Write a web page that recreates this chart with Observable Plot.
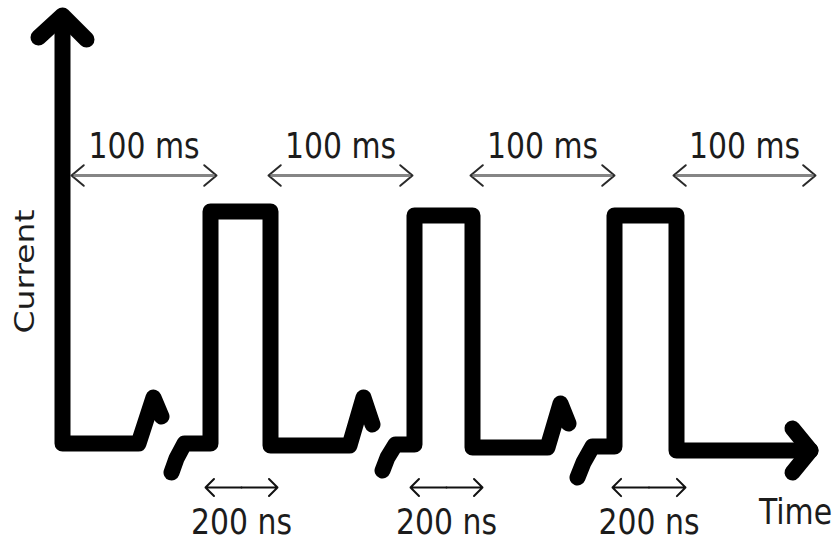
<!DOCTYPE html>
<html>
<head>
<meta charset="utf-8">
<script src="https://cdn.jsdelivr.net/npm/d3@7"></script>
<script src="https://cdn.jsdelivr.net/npm/@observablehq/plot@0.6"></script>
<style>
  html, body { margin: 0; padding: 0; background: #fff; }
  #chart svg { display: block; }
</style>
</head>
<body>
<div id="chart"></div>
<script>
// Schematic units (x: time along the diagram, y: height on the diagram, top = 0)
// Thick waveform traces (axis + pulse train, broken by "//" marks)
const traceNames = ["axis", "pulse1", "pulse2", "pulse3"];
const traceX = [
  [62, 62, 138, 153, 161],
  [171, 176, 184, 210, 210, 270, 270, 349, 363, 372],
  [382, 387, 395, 414, 414, 472, 472, 547, 560, 568],
  [577, 583, 592, 614, 614, 676, 676, 810]
];
const traceY = [
  [16, 443, 443, 397, 416],
  [472, 458, 443, 443, 211, 211, 445, 445, 397, 424],
  [470, 457, 444, 444, 215, 215, 447, 447, 403, 423],
  [477, 462, 446, 446, 215, 215, 450, 450]
];
// Arrow heads of the two axes
const headNames = ["yHead", "xHead"];
const headX = [[38, 62, 86], [792, 810, 792]];
const headY = [[37, 15, 39], [428, 450, 472]];

// "100 ms" period spans
const periodLabels = ["100 ms", "100 ms", "100 ms", "100 ms"];
const periodStart = [71, 268, 470, 673];
const periodEnd = [216, 412, 614, 815];
const periodY = 175;
const periodLabelY = 157;

// "200 ns" pulse-width spans
const widthLabels = ["200 ns", "200 ns", "200 ns"];
const widthStart = [205, 410, 612];
const widthEnd = [277, 482, 685];
const widthY = 487;
const widthLabelY = 533;

// Axis titles
const axisTitles = ["Current", "Time"];
const axisTitleX = [33, 795];
const axisTitleY = [271, 523];
const axisTitleRotate = [-90, 0];

// ---- build tables ----
const traceRows = traceNames.flatMap((name, i) =>
  traceX[i].map((x, j) => ({trace: name, x, y: traceY[i][j]})));
const headRows = headNames.flatMap((name, i) =>
  headX[i].map((x, j) => ({trace: name, x, y: headY[i][j]})));
const periods = periodLabels.map((label, i) => ({
  label, a: periodStart[i], b: periodEnd[i], y: periodY,
  mid: (periodStart[i] + periodEnd[i]) / 2, ly: periodLabelY
}));
const widths = widthLabels.map((label, i) => ({
  label, a: widthStart[i], b: widthEnd[i], y: widthY,
  mid: (widthStart[i] + widthEnd[i]) / 2, ly: widthLabelY
}));
const titles = axisTitles.map((t, i) => ({
  t, x: axisTitleX[i], y: axisTitleY[i], r: axisTitleRotate[i]
}));

const font = "'DejaVu Sans', Verdana, sans-serif";
const textColor = "#1c1c1c";

const chart = Plot.plot({
  width: 838,
  height: 541,
  margin: 0,
  x: {type: "linear", domain: [0, 838], range: [0, 838], axis: null},
  y: {type: "linear", domain: [0, 541], range: [0, 541], axis: null},
  style: {background: "#fff", fontFamily: font},
  marks: [
    // period spans: dark open heads, gray shaft on top
    Plot.arrow(periods, {x1: "mid", x2: "a", y1: "y", y2: "y", stroke: "#2a2a2a", strokeWidth: 2, headLength: 12, headAngle: 80}),
    Plot.arrow(periods, {x1: "mid", x2: "b", y1: "y", y2: "y", stroke: "#2a2a2a", strokeWidth: 2, headLength: 12, headAngle: 80}),
    Plot.link(periods, {x1: d => d.a + 2, x2: d => d.b - 2, y1: "y", y2: "y", stroke: "#858585", strokeWidth: 3}),
    Plot.text(periods, {x: "mid", y: "ly", text: "label", fontSize: 36, fontFamily: font, fill: textColor, textAnchor: "middle", lineAnchor: "bottom"}),

    // pulse-width spans
    Plot.arrow(widths, {x1: "mid", x2: "a", y1: "y", y2: "y", stroke: "#111", strokeWidth: 2, headLength: 10, headAngle: 90}),
    Plot.arrow(widths, {x1: "mid", x2: "b", y1: "y", y2: "y", stroke: "#111", strokeWidth: 2, headLength: 10, headAngle: 90}),
    Plot.text(widths, {x: "mid", y: "ly", text: "label", fontSize: 36, fontFamily: font, fill: textColor, textAnchor: "middle", lineAnchor: "bottom"}),

    // thick waveform and axes
    Plot.line(traceRows, {x: "x", y: "y", z: "trace", stroke: "#000", strokeWidth: 16, strokeLinejoin: "round", strokeLinecap: "round", curve: "linear"}),
    Plot.line(headRows, {x: "x", y: "y", z: "trace", stroke: "#000", strokeWidth: 16, strokeLinejoin: "round", strokeLinecap: "round", curve: "linear"}),

    // axis titles
    Plot.text(titles.filter(d => d.r !== 0), {x: "x", y: "y", text: "t", rotate: -90, fontSize: 33, fontFamily: font, fill: textColor, textAnchor: "middle", lineAnchor: "bottom"}),
    Plot.text(titles.filter(d => d.r === 0), {x: "x", y: "y", text: "t", fontSize: 36, fontFamily: font, fill: textColor, textAnchor: "middle", lineAnchor: "bottom"})
  ]
});

// The reference lettering is horizontally compressed; squeeze text along the screen x-direction.
const squeeze = 0.83;
d3.select(chart).selectAll("text").each(function() {
  const t = d3.select(this);
  let tr = t.attr("transform") || "";
  const x = t.attr("x"), y = t.attr("y");
  if (x != null || y != null) {
    tr = `${tr} translate(${x || 0},${y || 0})`;
    t.attr("x", null).attr("y", null);
  }
  const rotated = /rotate\(/.test(tr);
  t.attr("transform", `${tr} ${rotated ? `scale(1,${squeeze})` : `scale(${squeeze},1)`}`);
});

document.getElementById("chart").appendChild(chart);
</script>
</body>
</html>
